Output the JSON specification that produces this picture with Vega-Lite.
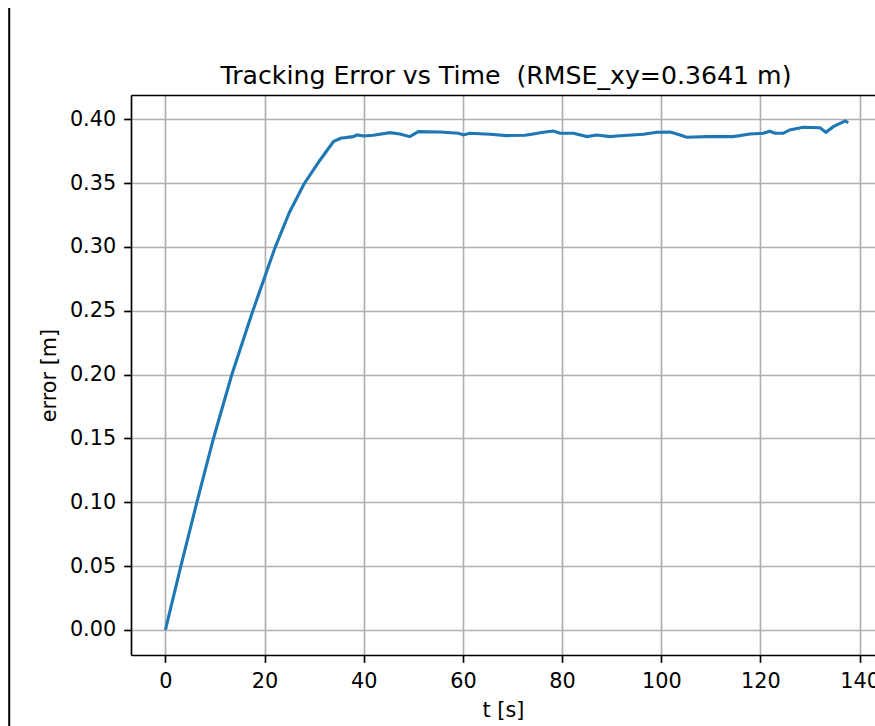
{
  "$schema": "https://vega.github.io/schema/vega-lite/v6.json",
  "width": 744,
  "height": 560,
  "autosize": {"type": "none"},
  "padding": {"left": 131, "top": 95, "right": 0, "bottom": 71},
  "background": "white",
  "config": {
    "view": {"stroke": null},
    "font": "DejaVu Sans",
    "axis": {
      "domainColor": "black",
      "domainWidth": 1.67,
      "tickColor": "black",
      "tickWidth": 1.67,
      "tickSize": 7.3,
      "labelFont": "DejaVu Sans",
      "labelFontSize": 20.8,
      "labelColor": "black",
      "labelFlush": false,
      "labelOverlap": false,
      "gridColor": "#b0b0b0",
      "gridWidth": 1.67,
      "gridOpacity": 1,
      "titleFont": "DejaVu Sans",
      "titleFontSize": 20.8,
      "titleFontWeight": "normal",
      "titleColor": "black"
    }
  },
  "title": {
    "text": "Tracking Error vs Time \u00a0(RMSE_xy=0.3641 m)",
    "font": "DejaVu Sans",
    "fontSize": 25.2,
    "fontWeight": "normal",
    "color": "black",
    "anchor": "middle",
    "baseline": "alphabetic",
    "offset": -102,
    "dx": 3
  },
  "data": {
    "values": [
      {"t": 0, "e": 0},
      {"t": 3.09, "e": 0.0496},
      {"t": 6.31, "e": 0.0995},
      {"t": 9.66, "e": 0.1496},
      {"t": 13.37, "e": 0.1997},
      {"t": 17.5, "e": 0.2485},
      {"t": 22.1, "e": 0.2994},
      {"t": 25.0, "e": 0.327},
      {"t": 27.95, "e": 0.3493},
      {"t": 31.2, "e": 0.3681},
      {"t": 33.9, "e": 0.3825},
      {"t": 35.3, "e": 0.3851},
      {"t": 37.9, "e": 0.3864},
      {"t": 38.6, "e": 0.3877},
      {"t": 40.0, "e": 0.3869},
      {"t": 41.9, "e": 0.3875},
      {"t": 45.3, "e": 0.3895},
      {"t": 47.3, "e": 0.3885},
      {"t": 49.3, "e": 0.3864},
      {"t": 51.0, "e": 0.3903},
      {"t": 55.4, "e": 0.39},
      {"t": 59.1, "e": 0.389},
      {"t": 60.1, "e": 0.3877},
      {"t": 61.4, "e": 0.389},
      {"t": 65.5, "e": 0.3883},
      {"t": 68.8, "e": 0.3872},
      {"t": 72.5, "e": 0.3875},
      {"t": 74.2, "e": 0.3885},
      {"t": 76.2, "e": 0.3898},
      {"t": 78.2, "e": 0.3908},
      {"t": 79.6, "e": 0.389},
      {"t": 82.3, "e": 0.389},
      {"t": 85.0, "e": 0.3864},
      {"t": 87.0, "e": 0.3877},
      {"t": 89.7, "e": 0.3864},
      {"t": 91.0, "e": 0.3869},
      {"t": 96.4, "e": 0.3883},
      {"t": 99.1, "e": 0.3898},
      {"t": 101.8, "e": 0.39},
      {"t": 103.8, "e": 0.3877},
      {"t": 105.1, "e": 0.3859},
      {"t": 109.2, "e": 0.3864},
      {"t": 114.5, "e": 0.3864},
      {"t": 117.9, "e": 0.3885},
      {"t": 120.6, "e": 0.389},
      {"t": 121.9, "e": 0.3906},
      {"t": 122.9, "e": 0.389},
      {"t": 124.6, "e": 0.389},
      {"t": 125.9, "e": 0.3916},
      {"t": 128.6, "e": 0.3937},
      {"t": 132.0, "e": 0.3934},
      {"t": 133.2, "e": 0.3898},
      {"t": 134.7, "e": 0.3942},
      {"t": 137.1, "e": 0.3987},
      {"t": 137.7, "e": 0.3973}
    ]
  },
  "layer": [
    {
      "mark": {"type": "line", "color": "#1f77b4", "strokeWidth": 3.1, "clip": true},
      "encoding": {
        "x": {
          "field": "t",
          "type": "quantitative",
          "scale": {"domain": [-6.94, 143.1], "nice": false, "zero": false},
          "axis": {
            "orient": "bottom",
            "values": [0, 20, 40, 60, 80, 100, 120, 140],
            "format": "d",
            "grid": true,
            "labelPadding": 9,
            "title": "t [s]",
            "titlePadding": 9
          }
        },
        "y": {
          "field": "e",
          "type": "quantitative",
          "scale": {"domain": [-0.0196, 0.419], "nice": false, "zero": false},
          "axis": {
            "orient": "left",
            "values": [0, 0.05, 0.1, 0.15, 0.2, 0.25, 0.3, 0.35, 0.4],
            "format": ".2f",
            "grid": true,
            "labelPadding": 8,
            "title": "error [m]",
            "titlePadding": 10
          }
        }
      }
    },
    {
      "data": {"values": [{}]},
      "mark": {"type": "rule", "color": "black", "strokeWidth": 2, "clip": false},
      "encoding": {
        "x": {
          "datum": -31.5,
          "type": "quantitative",
          "axis": {
            "orient": "top",
            "grid": false,
            "ticks": false,
            "labels": false,
            "title": null,
            "domain": true
          }
        },
        "y": {"datum": 0.4872, "type": "quantitative", "axis": null},
        "y2": {"datum": -0.0752}
      }
    }
  ],
  "resolve": {"axis": {"x": "independent", "y": "independent"}}
}
